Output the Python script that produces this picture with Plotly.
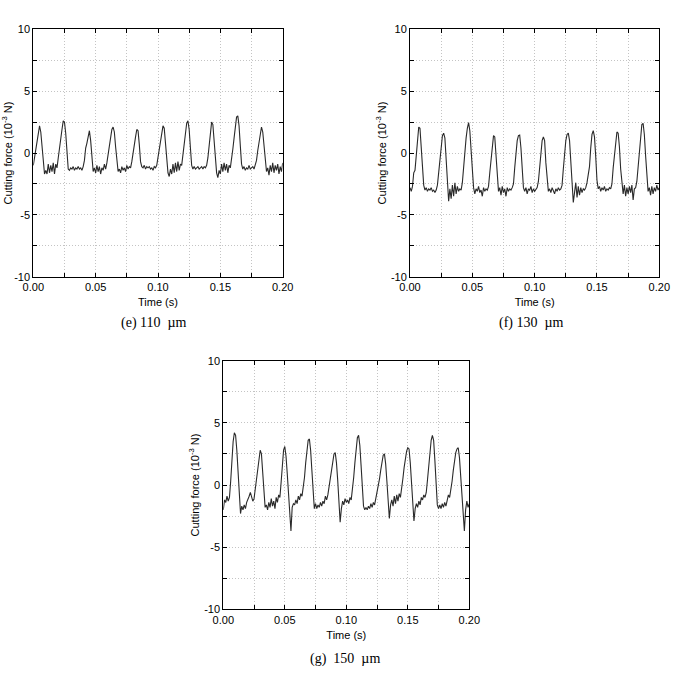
import plotly.graph_objects as go

# ---- data (time in ms sampled every 1 ms, force in 10^-3 N) ----
TIME_MS = list(range(0, 201))
TIME_S = [t / 1000 for t in TIME_MS]

FORCE_110 = [
    -1.0, -0.3, 0.4, 0.8, 1.4, 2.2, 1.7, 0.3, -1.0, -1.7,
    -1.4, -1.7, -0.9, -1.6, -1.0, -1.5, -0.8, -1.7, -0.9, -1.2,
    -0.4, 0.5, 1.2, 1.9, 2.6, 2.5, 1.6, 0.0, -1.3, -1.4,
    -1.2, -1.3, -1.1, -1.4, -1.2, -1.3, -1.1, -1.3, -1.2, -1.4,
    -1.1, -0.6, 0.4, 0.8, 1.2, 1.8, 1.0, -0.6, -1.5, -1.2,
    -1.6, -1.0, -1.5, -1.1, -1.7, -1.2, -1.4, -0.9, -1.3, -0.8,
    -0.2, 0.6, 1.3, 1.9, 2.1, 1.7, 0.5, -0.8, -1.5, -1.3,
    -1.6, -1.1, -1.4, -1.2, -1.5, -1.0, -1.3, -1.1, -1.2, -0.7,
    0.1, 0.8, 1.3, 1.9, 1.8, 0.7, -0.7, -1.1, -1.2, -1.0,
    -1.3, -1.1, -1.2, -1.1, -1.3, -1.2, -1.4, -1.1, -1.2, -1.0,
    -0.3, 0.4, 1.0, 1.6, 2.2, 2.0, 0.8, -0.8, -1.6, -1.9,
    -1.3, -1.7, -0.9, -1.6, -0.8, -1.5, -0.7, -1.4, -0.9, -1.0,
    -0.2, 0.7, 1.5, 2.4, 2.6, 1.9, 0.4, -1.0, -1.3, -1.1,
    -1.3, -1.2, -1.1, -1.3, -1.2, -1.1, -1.3, -1.1, -1.2, -1.0,
    -0.4, 0.6, 1.5, 2.5, 2.3, 1.0, -0.6, -1.6, -2.0, -1.4,
    -1.7, -0.9, -1.5, -0.8, -1.4, -0.9, -1.6, -1.0, -1.2, -0.6,
    0.3, 1.2, 2.0, 2.9, 3.0, 2.2, 0.6, -0.9, -1.3, -1.1,
    -1.4, -1.2, -1.3, -1.0, -1.3, -1.2, -1.1, -1.3, -1.0, -0.6,
    0.2, 0.8, 1.4, 2.1, 1.7, 0.6, -0.8, -1.5, -1.2, -1.8,
    -1.0, -1.5, -0.8, -1.6, -1.0, -1.4, -0.9, -1.7, -1.1, -1.5,
    -0.8,
]

FORCE_130 = [
    -2.8, -3.1, -2.7, -1.6, -1.4, -0.3, 1.0, 2.1, 2.0, 0.5,
    -1.3, -2.6, -3.0, -2.8, -3.1, -2.9, -3.0, -2.8, -3.1, -3.0,
    -3.2, -3.0, -2.6, -1.5, -0.2, 0.8, 1.4, 1.6, 1.2, -0.5,
    -2.2, -3.9, -2.9, -3.7, -2.6, -3.5, -2.4, -3.3, -2.7, -3.1,
    -2.9, -3.0, -2.4, -1.0, 0.3, 1.2, 2.0, 2.45, 1.8, 0.2,
    -1.7, -2.8, -3.3, -2.9, -3.1, -2.7, -3.2, -3.0, -3.5, -2.8,
    -3.1, -2.9, -3.0, -2.7, -1.6, -0.4, 0.6, 1.4, 1.3, -0.2,
    -2.0, -3.1, -2.8, -3.4, -2.7, -3.2, -2.9, -3.5, -2.8, -3.1,
    -2.9, -3.0, -2.8, -2.5, -1.2, 0.0, 1.0, 1.4, 1.45, 0.4,
    -1.5, -2.8, -3.1, -2.8, -3.3, -2.9, -3.0, -2.7, -3.2, -2.9,
    -3.1, -2.9, -2.8, -2.3, -1.0, 0.2, 1.0, 1.3, 1.0, -0.8,
    -2.4, -3.1, -2.9, -3.2, -2.8, -3.0, -3.3, -2.9, -3.1, -2.8,
    -3.0, -2.9, -2.6, -1.3, 0.0, 1.0, 1.5, 1.6, 1.0, -0.8,
    -2.6, -4.0, -3.2, -2.4, -3.6, -2.7, -3.4, -2.8, -3.2, -2.9,
    -3.0, -2.8, -2.4, -1.5, -1.1, 0.4, 1.5, 1.8, 1.3, -0.3,
    -2.2, -2.9, -2.7, -3.1, -2.8, -3.0, -2.7, -3.1, -2.9, -3.0,
    -2.8, -2.9, -2.5, -1.2, 0.0, 1.0, 1.7, 1.6, 0.5, -1.3,
    -2.7, -3.3, -2.6, -3.5, -2.8, -3.3, -2.7, -3.2, -2.6, -3.8,
    -2.9, -2.8, -2.3, -1.0, 0.3, 1.4, 2.3, 2.4, 1.5, -0.2,
    -2.1, -3.1, -2.8, -3.4, -2.7, -3.3, -2.8, -3.1, -2.6, -3.0,
    -2.8,
]

FORCE_150 = [
    -2.0, -1.2, -1.4, -0.9, -1.3, -1.0, 0.3, 2.0, 3.5, 4.2,
    4.0, 2.8, 0.8, -1.2, -2.3, -1.7, -2.0, -1.6, -1.9, -1.4,
    -1.2, -0.9, -0.6, -1.0, -1.3, -1.1, -0.3, 0.6, 1.6, 2.3,
    2.8, 2.5, 1.3, -0.5, -1.8, -1.6, -2.0, -1.4, -1.8, -1.1,
    -1.7, -1.3, -1.9, -1.0, -1.4, -0.8, -1.0, 0.2, 1.6, 2.8,
    3.1, 2.3, 0.9, -0.6, -2.0, -3.7, -1.8, -1.5, -1.6, -1.2,
    -1.5, -0.9, -1.2, -0.7, -0.9, -0.3, 0.6, 1.8, 2.9, 3.6,
    3.7, 2.8, 1.2, -0.6, -1.9, -1.5, -1.9, -1.6, -1.8, -1.4,
    -1.7, -1.3, -1.5, -0.9, -1.2, -0.8, -0.2, 0.4, 1.2, 1.9,
    2.5, 2.6, 1.8, 0.4, -1.3, -3.0, -1.9, -1.3, -1.6, -1.1,
    -1.4, -1.2, -1.5, -1.0, -1.2, -0.4, 0.6, 1.8, 2.9, 3.8,
    4.0, 3.2, 1.6, -0.1, -1.7, -2.0, -1.8, -2.0, -1.7, -1.9,
    -1.5, -1.8, -1.4, -1.6, -1.1, -0.8, -0.3, 0.5, 1.2, 1.9,
    2.4, 2.5, 1.7, 0.3, -1.2, -2.7, -1.6, -1.2, -1.7, -0.9,
    -1.5, -0.8, -1.3, -0.7, -1.0, -0.4, 0.5, 1.4, 2.2, 2.7,
    3.0, 2.9, 1.8, 0.2, -1.4, -2.9, -1.9, -1.5, -1.8, -1.3,
    -1.6, -1.0, -1.2, -0.8, -1.0, -0.6, 0.4, 1.6, 2.8, 3.6,
    4.0, 3.6, 2.0, 0.2, -1.6, -1.9, -1.6, -1.9, -1.5, -1.8,
    -1.4, -1.7, -1.2, -0.8, -1.0, -0.5, 0.3, 1.2, 2.0, 2.6,
    2.9, 3.0, 2.2, 0.8, -1.0, -2.5, -3.7, -2.0, -1.3, -1.8,
    -1.5,
]

CAPTIONS = ["(e) 110  µm", "(f) 130  µm", "(g)  150  µm"]
X_TICKS = [0.00, 0.05, 0.10, 0.15, 0.20]
X_TICK_TEXT = ["0.00", "0.05", "0.10", "0.15", "0.20"]
X_MINOR = [0.025, 0.075, 0.125, 0.175]
Y_TICKS = [-10, -5, 0, 5, 10]
Y_TICK_TEXT = ["-10", "-5", "0", "5", "10"]
Y_MINOR = [-7.5, -2.5, 2.5, 7.5]
X_TITLE = "Time (s)"
Y_TITLE = "Cutting force (10<sup>-3</sup> N)"

# ---- layout geometry (paper fractions) ----
W, H = 676, 677
PANELS = [
    dict(x0=33.3, x1=282.7, y0=29.3, y1=276.7, cap=(154, 323)),
    dict(x0=410.0, x1=659.3, y0=29.3, y1=276.7, cap=(531, 323)),
    dict(x0=223.3, x1=469.3, y0=360.7, y1=609.3, cap=(345, 659)),
]

SANS = "Liberation Sans, Arial, sans-serif"
SERIF = "Liberation Serif, Times New Roman, serif"
GRID = "#c4c4c4"
GRID_DASH = "1px,2px"

fig = go.Figure()
series = [FORCE_110, FORCE_130, FORCE_150]
layout_axes = {}
annotations = []
for i, (ys, p, cap) in enumerate(zip(series, PANELS, CAPTIONS)):
    sfx = "" if i == 0 else str(i + 1)
    fig.add_trace(go.Scatter(
        x=TIME_S, y=ys, mode="lines",
        line=dict(color="#2a2a2a", width=1.1),
        xaxis="x" + sfx, yaxis="y" + sfx, showlegend=False,
        hoverinfo="skip",
    ))
    xd = [p["x0"] / W, p["x1"] / W]
    yd = [1 - p["y1"] / H, 1 - p["y0"] / H]
    common = dict(
        ticks="inside", ticklen=4, tickcolor="black", tickwidth=1,
        showline=True, linecolor="black", linewidth=1, mirror="ticks",
        showgrid=True, gridcolor=GRID, griddash=GRID_DASH, gridwidth=1,
        zeroline=False, automargin=False,
        tickfont=dict(family=SANS, size=11, color="black"),
    )
    layout_axes["xaxis" + sfx] = dict(
        common, domain=xd, anchor="y" + sfx, range=[0, 0.2],
        tickmode="array", tickvals=X_TICKS, ticktext=X_TICK_TEXT,
        minor=dict(tickmode="array", tickvals=X_MINOR, showgrid=True,
                   gridcolor=GRID, griddash=GRID_DASH, gridwidth=1,
                   ticks="inside", ticklen=4, tickcolor="black"),
        title=dict(text=X_TITLE, font=dict(family=SANS, size=11, color="black"), standoff=6),
    )
    layout_axes["yaxis" + sfx] = dict(
        common, domain=yd, anchor="x" + sfx, range=[-10, 10],
        tickmode="array", tickvals=Y_TICKS, ticktext=Y_TICK_TEXT,
        minor=dict(tickmode="array", tickvals=Y_MINOR, showgrid=True,
                   gridcolor=GRID, griddash=GRID_DASH, gridwidth=1,
                   ticks="inside", ticklen=4, tickcolor="black"),
        title=dict(text=Y_TITLE, font=dict(family=SANS, size=11, color="black"), standoff=2),
    )
    annotations.append(dict(
        text=cap, x=p["cap"][0] / W, y=1 - p["cap"][1] / H,
        xref="paper", yref="paper", xanchor="center", yanchor="middle",
        showarrow=False, font=dict(family=SERIF, size=14, color="black"),
    ))

fig.update_layout(
    width=W, height=H,
    margin=dict(l=0, r=0, t=0, b=0),
    paper_bgcolor="white", plot_bgcolor="white",
    annotations=annotations,
    **layout_axes,
)

fig.write_html("out.html")
